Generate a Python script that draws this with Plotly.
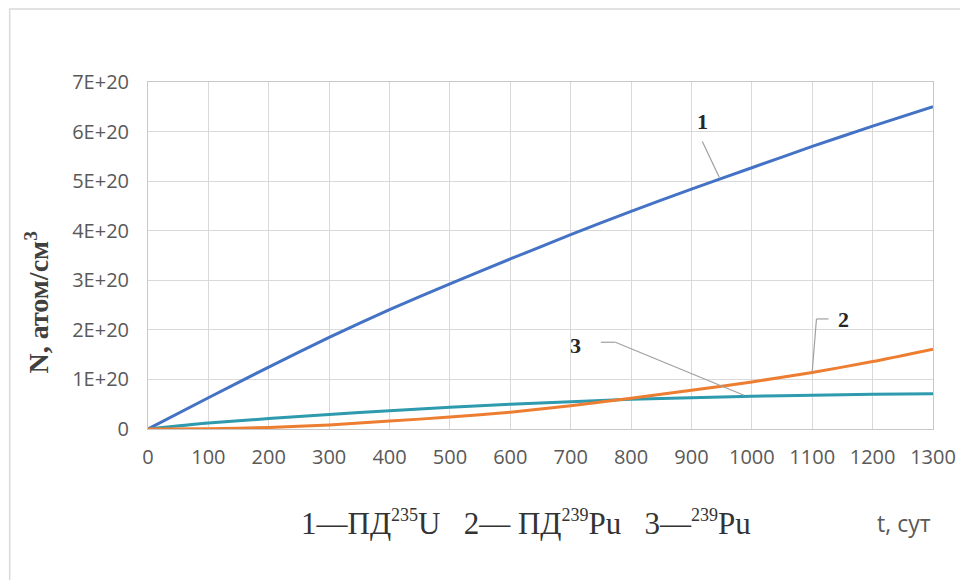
import plotly.graph_objects as go

# Data
t_days = [0, 100, 200, 300, 400, 500, 600, 700, 800, 900, 1000, 1100, 1200, 1300]
pd_u235 = [0, 0.63e20, 1.25e20, 1.85e20, 2.41e20, 2.93e20, 3.43e20, 3.92e20, 4.39e20,
           4.84e20, 5.27e20, 5.70e20, 6.11e20, 6.50e20]
pd_pu239 = [0, 0.005e20, 0.03e20, 0.08e20, 0.16e20, 0.24e20, 0.34e20, 0.47e20, 0.62e20,
            0.78e20, 0.95e20, 1.14e20, 1.36e20, 1.61e20]
pu239 = [0, 0.12e20, 0.21e20, 0.29e20, 0.37e20, 0.44e20, 0.50e20, 0.55e20, 0.60e20,
         0.63e20, 0.66e20, 0.68e20, 0.70e20, 0.71e20]

y_tickvals = [0, 1e20, 2e20, 3e20, 4e20, 5e20, 6e20, 7e20]
y_ticktext = ["0", "1E+20", "2E+20", "3E+20", "4E+20", "5E+20", "6E+20", "7E+20"]
x_tickvals = t_days
x_ticktext = [str(v) for v in t_days]

fig = go.Figure()
fig.add_trace(go.Scatter(x=t_days, y=pd_u235, mode="lines", name="1",
                         line=dict(color="#4472C4", width=3, shape="spline", smoothing=0.6)))
fig.add_trace(go.Scatter(x=t_days, y=pu239, mode="lines", name="3",
                         line=dict(color="#2E9AAE", width=3, shape="spline", smoothing=0.6)))
fig.add_trace(go.Scatter(x=t_days, y=pd_pu239, mode="lines", name="2",
                         line=dict(color="#ED7D31", width=3, shape="spline", smoothing=0.6)))

lead = dict(color="#A0A0A0", width=1.2)
# leader lines (data coordinates)
fig.add_shape(type="line", xref="x", yref="y", x0=918, y0=5.80e20, x1=946, y1=5.08e20, line=lead)
fig.add_shape(type="line", xref="x", yref="y", x0=1127, y0=2.22e20, x1=1107, y1=2.22e20, line=lead)
fig.add_shape(type="line", xref="x", yref="y", x0=1107, y0=2.22e20, x1=1100, y1=1.16e20, line=lead)
fig.add_shape(type="line", xref="x", yref="y", x0=750, y0=1.75e20, x1=774, y1=1.75e20, line=lead)
fig.add_shape(type="line", xref="x", yref="y", x0=774, y0=1.75e20, x1=987, y1=0.68e20, line=lead)

# outer frame
fig.add_shape(type="rect", xref="paper", yref="paper", x0=-0.1762, y0=-0.6, x1=1.2, y1=1.2104,
              line=dict(color="#D9D9D9", width=1.5), layer="below")

lab_font = dict(family="Liberation Serif", size=22, color="#262626")
fig.add_annotation(x=918, y=6.2e20, xref="x", yref="y", text="<b>1</b>", showarrow=False, font=lab_font)
fig.add_annotation(x=1152, y=2.2e20, xref="x", yref="y", text="<b>2</b>", showarrow=False, font=lab_font)
fig.add_annotation(x=708, y=1.69e20, xref="x", yref="y", text="<b>3</b>", showarrow=False, font=lab_font)

# y axis title
fig.add_annotation(x=-0.1407, y=0.366, xref="paper", yref="paper", text="<b>N, атом/см<sup>3</sup></b>",
                   textangle=-90, showarrow=False, xanchor="center", yanchor="middle",
                   font=dict(family="Liberation Serif", size=28, color="#404040"))
# caption
sup = '<sup><span style="font-size:18px">{}</span></sup>'
caption = ("1—ПД" + sup.format("235") + "U   2— ПД" + sup.format("239") + "Pu   3—"
           + sup.format("239") + "Pu")
fig.add_annotation(x=0.481, y=-0.271, xref="paper", yref="paper",
                   text=caption,
                   showarrow=False, xanchor="center", yanchor="middle",
                   font=dict(family="Liberation Serif", size=31, color="#333333"))
fig.add_annotation(x=0.963, y=-0.271, xref="paper", yref="paper", text="t, сут",
                   showarrow=False, xanchor="center", yanchor="middle",
                   font=dict(family="Open Sans", size=23, color="#595959"))

fig.update_layout(
    width=960, height=572,
    margin=dict(l=140, r=31, t=74, b=151),
    paper_bgcolor="white", plot_bgcolor="white",
    showlegend=False,
    xaxis=dict(range=[0, 1300], tickvals=x_tickvals, ticktext=x_ticktext,
               showgrid=True, gridcolor="#D9D9D9", gridwidth=1,
               showline=True, linecolor="#C8C8C8", mirror=True,
               ticks="outside", ticklen=10, tickcolor="rgba(0,0,0,0)",
               tickfont=dict(family="Open Sans", size=20, color="#595959"), zeroline=False),
    yaxis=dict(range=[0, 7e20], tickvals=y_tickvals, ticktext=y_ticktext,
               showgrid=True, gridcolor="#D9D9D9", gridwidth=1,
               showline=True, linecolor="#C8C8C8", mirror=True,
               ticks="outside", ticklen=14, tickcolor="rgba(0,0,0,0)",
               tickfont=dict(family="Open Sans", size=20, color="#595959"), zeroline=False),
)

fig.write_html("out.html")
